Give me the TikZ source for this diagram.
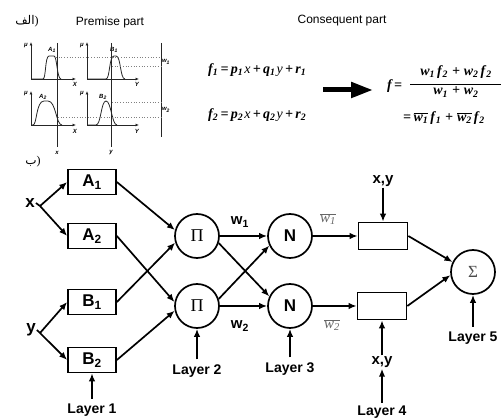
\documentclass[tikz,border=0pt]{standalone}
\usepackage{fontspec}
\setmainfont{Liberation Serif}
\setsansfont{Liberation Sans}
\newfontfamily\arabicfont[Script=Arabic]{DejaVu Sans}
\TeXXeTstate=1
\usetikzlibrary{arrows.meta}
\begin{document}
\begin{tikzpicture}[x=1pt,y=-1pt,
  conn/.style={line width=1.7pt,-{Latex[length=8pt,width=6.5pt]}},
  mfbox/.style={draw,line width=1.7pt,minimum width=48pt,minimum height=25pt,inner sep=0pt,font=\sffamily\bfseries\fontsize{17}{17}\selectfont},
  opnode/.style={draw,circle,line width=1.7pt,minimum size=44pt,inner sep=0pt},
  lbl/.style={font=\sffamily\bfseries\fontsize{14}{14}\selectfont,inner sep=1pt},
  inlbl/.style={font=\sffamily\bfseries\fontsize{17}{17}\selectfont,inner sep=1pt},
  wlbl/.style={font=\sffamily\bfseries\fontsize{15}{15}\selectfont,inner sep=1pt},
  wbar/.style={font=\itshape\fontsize{15}{15}\selectfont,text=black!60,inner sep=1pt},
  title/.style={font=\sffamily\fontsize{12}{12}\selectfont,inner sep=1pt},
  eqn/.style={font=\bfseries\itshape\fontsize{14}{14}\selectfont,inner sep=0pt},
  tiny/.style={font=\sffamily\bfseries\itshape\fontsize{6}{6}\selectfont,inner sep=0pt},
  plotline/.style={line width=0.8pt,black!85},
  axis/.style={line width=0.8pt,black!85,-{Latex[length=3.5pt,width=3pt]}},
  guide/.style={dotted,line width=0.7pt,black!50}
]
\useasboundingbox (0,0) rectangle (501,419);

% ---------- (a) premise part ----------
\node[inner sep=0pt,font=\fontsize{12}{12}\selectfont] (alef) at (27,21) {{\arabicfont\beginR الف\endR})};
\node[title] (premise) at (110,22) {Premise part};
\node[title] (conseq) at (342,21) {Consequent part};

% plot 1 (A1)
\draw[axis] (31,79) -- (31,42);
\draw[axis] (31,79) -- (76,79);
\draw[plotline] (31,79) -- (43,79) .. controls (46,79) and (45,56) .. (49,56) -- (54,56) .. controls (57,56) and (57,79) .. (61,79);
\node[tiny] (mu1) at (26,46) {μ};
\node[tiny] (lA1) at (52,50) {A\textsubscript{1}};
\node[tiny] (lX1) at (75,84) {X};
% plot 2 (B1)
\draw[axis] (87,79) -- (87,42);
\draw[axis] (87,79) -- (139,79);
\draw[plotline] (87,79) -- (106,79) .. controls (110,79) and (109,56) .. (114,56) -- (116,56) .. controls (121,56) and (120,79) .. (125,79);
\node[tiny] (mu2) at (82,46) {μ};
\node[tiny] (lB1) at (114,50) {B\textsubscript{1}};
\node[tiny] (lY1) at (137,84) {Y};
% plot 3 (A2)
\draw[axis] (31,125) -- (31,91);
\draw[axis] (31,125) -- (76,125);
\draw[plotline] (31,125) -- (33,125) .. controls (37,125) and (36,101) .. (44,101) -- (48,101) .. controls (56,101) and (56,125) .. (62,125);
\node[tiny] (mu3) at (26,94) {μ};
\node[tiny] (lA2) at (43,97) {A\textsubscript{2}};
\node[tiny] (lX2) at (75,131) {X};
% plot 4 (B2)
\draw[axis] (87,125) -- (87,91);
\draw[axis] (87,125) -- (139,125);
\draw[plotline] (87,125) -- (96,125) .. controls (101,125) and (101,101) .. (106,101) .. controls (111,101) and (112,125) .. (117,125);
\node[tiny] (mu4) at (82,94) {μ};
\node[tiny] (lB2) at (103,97) {B\textsubscript{2}};
\node[tiny] (lY2) at (137,131) {Y};
% guides
\draw[plotline] (57,43) -- (57,147);
\draw[plotline] (111,43) -- (111,147);
\draw[plotline] (161,43) -- (161,137);
\node[tiny] (lx) at (57,153) {x};
\node[tiny] (ly) at (111,153) {y};
\node[tiny] (lw1) at (166,62) {w\textsubscript{1}};
\node[tiny] (lw2) at (166,110) {w\textsubscript{2}};
\draw[guide] (56,57) -- (161,57);
\draw[guide] (112,66) -- (161,66);
\draw[guide] (112,102) -- (161,102);
\draw[guide] (58,117) -- (161,117);

% consequent equations
\node[eqn,anchor=west] (f1) at (208,70) {f\textsubscript{1}\,=\,p\textsubscript{1}\kern1pt{\mdseries x}\,+\,q\textsubscript{1}\kern1pt{\mdseries y}\,+\,r\textsubscript{1}};
\node[eqn,anchor=west] (f2) at (208,115) {f\textsubscript{2}\,=\,p\textsubscript{2}\kern1pt{\mdseries x}\,+\,q\textsubscript{2}\kern1pt{\mdseries y}\,+\,r\textsubscript{2}};
\coordinate (bigA) at (323,90);
\coordinate (bigB) at (373,90);
\draw[line width=5pt,-{Triangle[length=22pt,width=15pt]}] (bigA) -- (bigB);
\node[eqn,anchor=west] (feq) at (387,86) {f\,=};
\node[eqn] (num) at (456,72) {w\textsubscript{1}\kern2pt f\kern1pt\textsubscript{2}\;+\;w\textsubscript{2}\kern2pt f\kern1pt\textsubscript{2}};
\node[eqn] (den) at (456,92) {w\textsubscript{1}\;+\;w\textsubscript{2}};
\draw[line width=0.8pt] (410,84) -- (501,84);
\node[eqn,anchor=west] (feq2) at (403,118) {=\,$\overline{\mbox{w\textsubscript{1}}}$\kern2pt f\kern1pt\textsubscript{1}\;+\;$\overline{\mbox{w\textsubscript{2}}}$\kern2pt f\kern1pt\textsubscript{2}};

% ---------- (b) ANFIS ----------
\node[inner sep=0pt,font=\fontsize{12}{12}\selectfont] (be) at (33,162) {{\arabicfont\beginR ب\endR})};

\node[mfbox] (A1) at (92,182) {A\textsubscript{1}};
\node[mfbox] (A2) at (92,236) {A\textsubscript{2}};
\node[mfbox] (B1) at (92,302) {B\textsubscript{1}};
\node[mfbox] (B2) at (92,360) {B\textsubscript{2}};

\node[inlbl] (x) at (30,203) {x};
\node[inlbl] (y) at (31,330) {y};
\coordinate (xb) at (40,206);
\coordinate (yb) at (40,333);

\node[opnode,font=\fontsize{18}{18}\selectfont] (P1) at (197,236) {Π};
\node[opnode,font=\fontsize{18}{18}\selectfont] (P2) at (197,306) {Π};
\node[opnode,font=\sffamily\bfseries\fontsize{17}{17}\selectfont] (N1) at (290,236) {N};
\node[opnode,font=\sffamily\bfseries\fontsize{17}{17}\selectfont] (N2) at (290,306) {N};
\node[draw,line width=1.7pt,minimum width=49pt,minimum height=27pt,inner sep=0pt] (C1) at (383,236) {};
\node[draw,line width=1.7pt,minimum width=49pt,minimum height=27pt,inner sep=0pt] (C2) at (382,306) {};
\node[opnode,font=\fontsize{17}{17}\selectfont,text=black!70] (S) at (473,272) {Σ};

\node[wlbl] (w1) at (240,222) {w\textsubscript{1}};
\node[wlbl] (w2) at (240,326) {w\textsubscript{2}};
\node[wbar] (wb1) at (328,219) {$\overline{\mbox{w\textsubscript{1}}}$};
\node[wbar] (wb2) at (332,325) {$\overline{\mbox{w\textsubscript{2}}}$};

\node[wlbl] (xy1) at (383,181) {x,y};
\node[wlbl] (xy2) at (382,362) {x,y};

\node[lbl] (L1) at (92,410) {Layer 1};
\node[lbl] (L2) at (197,371) {Layer 2};
\node[lbl] (L3) at (290,369) {Layer 3};
\node[lbl] (L4) at (382,412) {Layer 4};
\node[lbl] (L5) at (473,338) {Layer 5};

% connectors
\draw[line width=1.7pt] (x.east) -- (xb);
\draw[line width=1.7pt] (y.east) -- (yb);
\draw[conn] (xb) -- (A1.west);
\draw[conn] (xb) -- (A2.west);
\draw[conn] (yb) -- (B1.west);
\draw[conn] (yb) -- (B2.west);

\draw[conn] (A1.east) -- (P1.165);
\draw[conn] (B1.east) -- (P1.197);
\draw[conn] (A2.east) -- (P2.170);
\draw[conn] (B2.east) -- (P2.192);

\draw[conn] (P1.east) -- (N1.west);
\draw[conn] (P2.east) -- (N2.west);
\draw[conn] (P1.-18) -- (N2.155);
\draw[conn] (P2.18) -- (N1.-155);

\draw[conn] (N1.east) -- (C1.west);
\draw[conn] (N2.east) -- (C2.west);
\draw[conn] (C1.east) -- (S.154);
\draw[conn] (C2.east) -- (S.188);

\draw[conn] (xy1.south) -- (C1.north);
\draw[conn] (xy2.north) -- (C2.south);
\draw[conn,shorten <=2pt] (L4.north) -- (xy2.south);

\draw[conn,shorten <=4pt] (L1.north) -- (B2.south);
\draw[conn,shorten <=4pt] (L2.north) -- (P2.south);
\draw[conn,shorten <=4pt] (L3.north) -- (N2.south);
\draw[conn,shorten <=4pt] (L5.north) -- (S.south);
\end{tikzpicture}
\end{document}
